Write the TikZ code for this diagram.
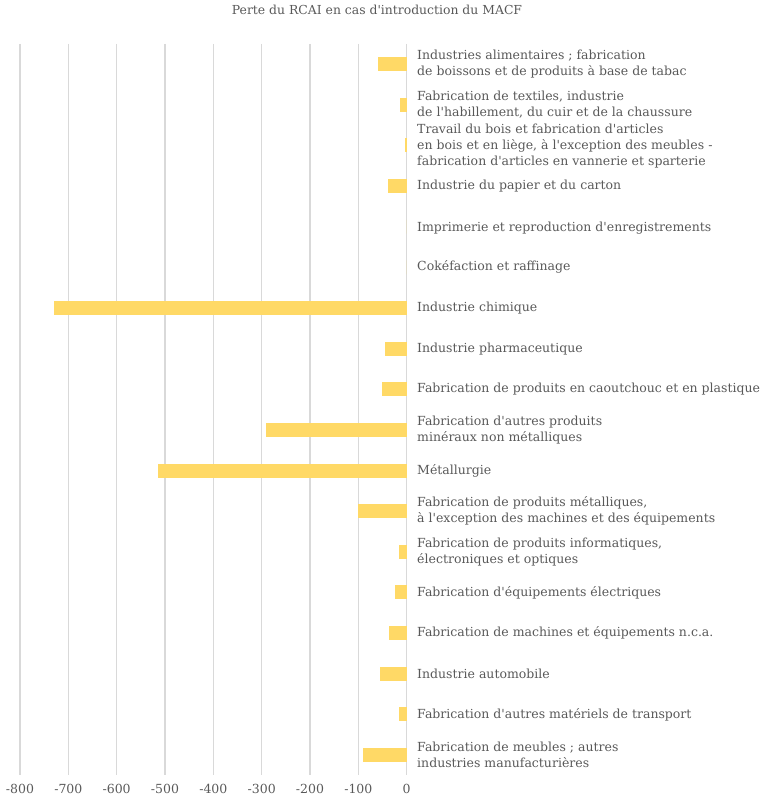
\documentclass[tikz,border=0pt]{standalone}
\usepackage{fontspec}
\newfontfamily\chartfont{DejaVu Serif}
\usetikzlibrary{positioning}
\definecolor{barcol}{HTML}{FFD966}
\definecolor{gridcol}{HTML}{D9D9D9}
\definecolor{txtcol}{HTML}{595959}
\tikzset{
  grid line/.style={draw=gridcol,line width=1.2pt},
  bar/.style={fill=barcol,draw=none},
  sector/.style={anchor=west,text=txtcol,font=\chartfont\fontsize{12.5}{16}\selectfont,align=left,inner sep=0pt},
  tick label/.style={text=txtcol,font=\chartfont\fontsize{12.5}{14}\selectfont,inner sep=0pt}
}
\begin{document}
\begin{tikzpicture}[x=1pt,y=-1pt]
	\useasboundingbox (0,0) rectangle (774,800);
	% grid and axis values
	\foreach \v in {-800,-700,...,0}{
		\draw [grid line] (406.7+0.4834*\v,44) -- (406.7+0.4834*\v,775);
		\node [tick label] (t\v) at (406.7+0.4834*\v,789) {\v};
	}
	\node [text=txtcol,font=\chartfont\fontsize{12.4}{14}\selectfont] (title) at (377,10) {Perte du RCAI en cas d'introduction du MACF};
	% bars
	\foreach \i/\v in {1/-60,2/-13,3/-3,4/-38,5/0,6/0,7/-729,8/-44,9/-51,10/-292,11/-515,12/-100,13/-15,14/-24,15/-37,16/-56,17/-15,18/-90}{
		\fill [bar] (406.7+0.4834*\v,64+40.65*\i-40.65-7) rectangle (406.7,64+40.65*\i-40.65+7);
		\coordinate (c\i) at (417,64+40.65*\i-40.65);
	}
	% sector names
	\node [sector] (s1) at (c1) {Industries alimentaires ; fabrication\\de boissons et de produits à base de tabac};
	\node [sector] (s2) at (c2) {Fabrication de textiles, industrie\\de l'habillement, du cuir et de la chaussure};
	\node [sector] (s3) at ([yshift=-1pt]c3) {Travail du bois et fabrication d'articles\\en bois et en liège, à l'exception des meubles -\\fabrication d'articles en vannerie et sparterie};
	\node [sector] (s4) at (c4) {Industrie du papier et du carton};
	\node [sector] (s5) at ([yshift=-2pt]c5) {Imprimerie et reproduction d'enregistrements};
	\node [sector] (s6) at (c6) {Cokéfaction et raffinage};
	\node [sector] (s7) at (c7) {Industrie chimique};
	\node [sector] (s8) at (c8) {Industrie pharmaceutique};
	\node [sector] (s9) at (c9) {Fabrication de produits en caoutchouc et en plastique};
	\node [sector] (s10) at (c10) {Fabrication d'autres produits\\minéraux non métalliques};
	\node [sector] (s11) at (c11) {Métallurgie};
	\node [sector] (s12) at (c12) {Fabrication de produits métalliques,\\à l'exception des machines et des équipements};
	\node [sector] (s13) at (c13) {Fabrication de produits informatiques,\\électroniques et optiques};
	\node [sector] (s14) at (c14) {Fabrication d'équipements électriques};
	\node [sector] (s15) at (c15) {Fabrication de machines et équipements n.c.a.};
	\node [sector] (s16) at (c16) {Industrie automobile};
	\node [sector] (s17) at (c17) {Fabrication d'autres matériels de transport};
	\node [sector] (s18) at (c18) {Fabrication de meubles ; autres\\industries manufacturières};
\end{tikzpicture}
\end{document}
